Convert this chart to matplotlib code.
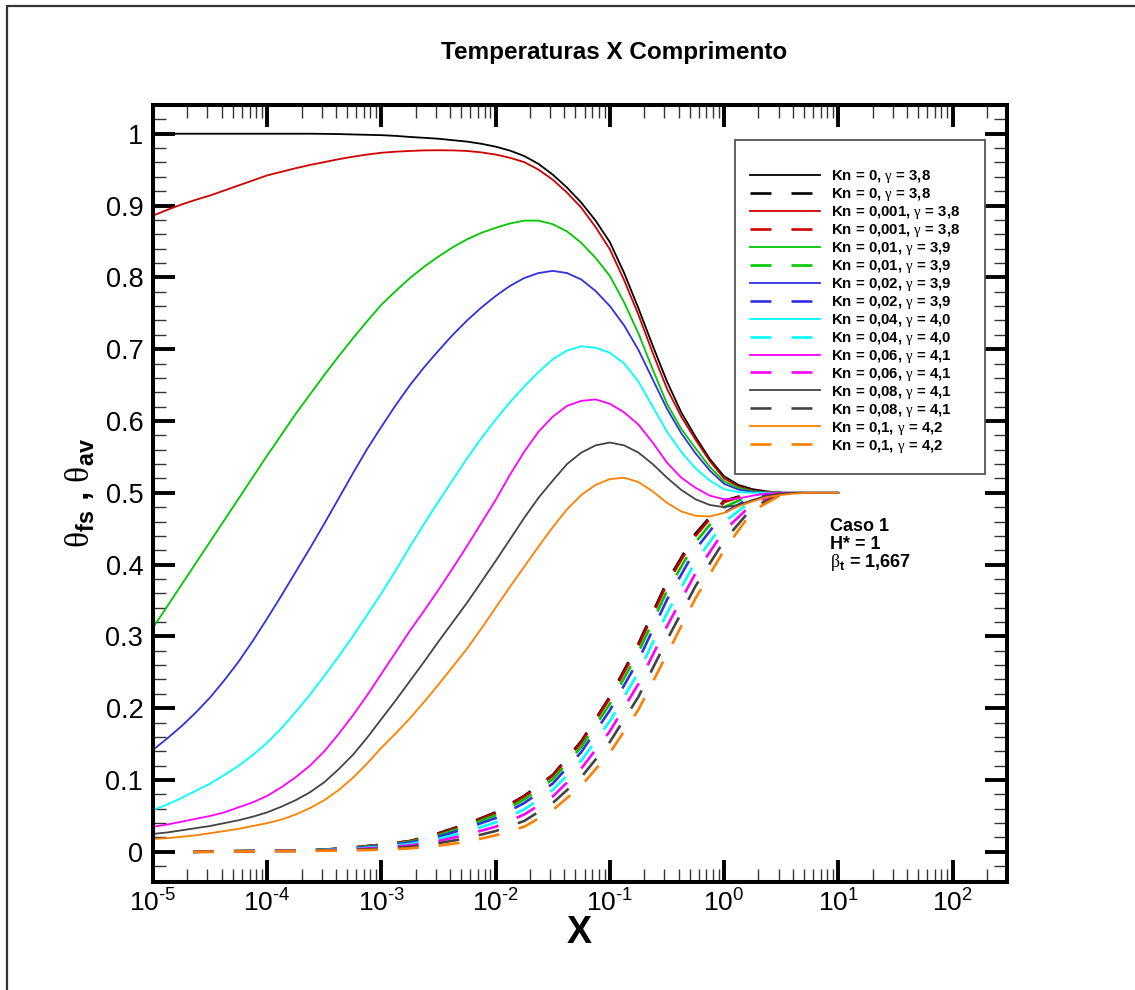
import matplotlib
matplotlib.use("Agg")
import matplotlib.pyplot as plt
from matplotlib.patches import Rectangle
from matplotlib.lines import Line2D
from matplotlib.ticker import LogLocator, MultipleLocator, NullFormatter

plt.rcParams['font.family'] = ['Liberation Sans', 'DejaVu Sans']
plt.rcParams['mathtext.fontset'] = 'custom'
plt.rcParams['mathtext.rm'] = 'Liberation Sans'
plt.rcParams['mathtext.it'] = 'Liberation Sans'
plt.rcParams['mathtext.bf'] = 'Liberation Sans:bold'
plt.rcParams['mathtext.sf'] = 'Liberation Serif'
plt.rcParams['lines.scale_dashes'] = False

# axial positions (X), 1/8 decade apart for theta_fs
x_fs = [1e-5, 1.334e-5, 1.778e-5, 2.371e-5, 3.162e-5, 4.217e-5, 5.623e-5, 7.499e-5,
        1e-4, 1.334e-4, 1.778e-4, 2.371e-4, 3.162e-4, 4.217e-4, 5.623e-4, 7.499e-4,
        1e-3, 1.334e-3, 1.778e-3, 2.371e-3, 3.162e-3, 4.217e-3, 5.623e-3, 7.499e-3,
        1e-2, 1.334e-2, 1.778e-2, 2.371e-2, 3.162e-2, 4.217e-2, 5.623e-2, 7.499e-2,
        0.1, 0.1334, 0.1778, 0.2371, 0.3162, 0.4217, 0.5623, 0.7499,
        1.0, 1.334, 1.778, 2.371, 3.162, 4.217, 5.623, 7.499,
        10.0]
x_av = [2.24e-5, 3.16e-5, 5.62e-5, 1e-4, 1.78e-4, 3.16e-4, 5.62e-4,
        1e-3, 1.78e-3, 3.16e-3, 5.62e-3, 1e-2, 1.78e-2, 3.16e-2, 5.62e-2,
        0.1, 0.178, 0.316, 0.562, 1.0, 1.78, 3.16]

# theta_fs (solid lines)
fs_kn0 = [1.0, 1.0, 1.0, 1.0, 1.0, 1.0, 1.0, 1.0,
          1.0, 1.0, 1.0, 1.0, 0.9998, 0.9995, 0.999, 0.9985,
          0.998, 0.997, 0.9955, 0.9943, 0.993, 0.991, 0.989, 0.986,
          0.982, 0.9765, 0.969, 0.958, 0.943, 0.925, 0.904, 0.879,
          0.849, 0.806, 0.757, 0.705, 0.655, 0.612, 0.578, 0.547,
          0.523, 0.511, 0.505, 0.502, 0.5, 0.5, 0.5, 0.5,
          0.5]
fs_kn0001 = [0.886, 0.894, 0.9015, 0.908, 0.914, 0.921, 0.928, 0.935,
             0.942, 0.947, 0.952, 0.9565, 0.9605, 0.9645, 0.968, 0.971,
             0.9735, 0.975, 0.976, 0.9768, 0.977, 0.9768, 0.976, 0.974,
             0.971, 0.9665, 0.9605, 0.950, 0.936, 0.918, 0.897, 0.870,
             0.839, 0.796, 0.748, 0.695, 0.645, 0.606, 0.574, 0.544,
             0.520, 0.509, 0.503, 0.501, 0.5, 0.5, 0.5, 0.5,
             0.5]
fs_kn001 = [0.312, 0.342, 0.372, 0.402, 0.432, 0.462, 0.492, 0.522,
            0.552, 0.581, 0.610, 0.637, 0.664, 0.690, 0.715, 0.739,
            0.762, 0.781, 0.799, 0.815, 0.829, 0.842, 0.853, 0.862,
            0.869, 0.875, 0.879, 0.879, 0.874, 0.864, 0.848, 0.827,
            0.802, 0.765, 0.722, 0.672, 0.624, 0.589, 0.562, 0.536,
            0.516, 0.507, 0.502, 0.5005, 0.5, 0.5, 0.5, 0.5,
            0.5]
fs_kn002 = [0.142, 0.158, 0.175, 0.194, 0.215, 0.239, 0.265, 0.294,
            0.325, 0.357, 0.39, 0.423, 0.457, 0.492, 0.527, 0.561,
            0.592, 0.622, 0.650, 0.675, 0.698, 0.720, 0.740, 0.758,
            0.774, 0.788, 0.799, 0.806, 0.809, 0.806, 0.797, 0.781,
            0.760, 0.733, 0.699, 0.658, 0.617, 0.583, 0.555, 0.531,
            0.5125, 0.5045, 0.501, 0.5, 0.5, 0.5, 0.5, 0.5,
            0.5]
fs_kn004 = [0.058, 0.066, 0.075, 0.085, 0.095, 0.107, 0.12, 0.135,
            0.152, 0.172, 0.195, 0.219, 0.245, 0.272, 0.30, 0.33,
            0.36, 0.392, 0.425, 0.457, 0.488, 0.518, 0.548, 0.576,
            0.602, 0.626, 0.648, 0.668, 0.686, 0.698, 0.704, 0.702,
            0.695, 0.680, 0.655, 0.620, 0.585, 0.557, 0.534, 0.517,
            0.505, 0.501, 0.5, 0.5, 0.5, 0.5, 0.5, 0.5,
            0.5]
fs_kn006 = [0.035, 0.038, 0.042, 0.046, 0.05, 0.055, 0.062, 0.069,
            0.078, 0.090, 0.104, 0.120, 0.14, 0.164, 0.19, 0.218,
            0.248, 0.278, 0.308, 0.336, 0.365, 0.395, 0.426, 0.458,
            0.490, 0.525, 0.557, 0.585, 0.606, 0.621, 0.628, 0.630,
            0.624, 0.612, 0.595, 0.570, 0.542, 0.521, 0.507, 0.496,
            0.491, 0.492, 0.496, 0.499, 0.5, 0.5, 0.5, 0.5,
            0.5]
fs_kn008 = [0.025, 0.027, 0.03, 0.033, 0.036, 0.040, 0.044, 0.049,
            0.055, 0.063, 0.072, 0.083, 0.097, 0.115, 0.135, 0.159,
            0.185, 0.211, 0.238, 0.265, 0.293, 0.320, 0.347, 0.376,
            0.405, 0.435, 0.465, 0.493, 0.517, 0.540, 0.556, 0.566,
            0.570, 0.566, 0.556, 0.540, 0.521, 0.504, 0.491, 0.483,
            0.480, 0.483, 0.490, 0.496, 0.499, 0.5, 0.5, 0.5,
            0.5]
fs_kn01 = [0.018, 0.019, 0.021, 0.023, 0.026, 0.029, 0.032, 0.036,
           0.04, 0.045, 0.052, 0.061, 0.072, 0.086, 0.103, 0.123,
           0.145, 0.165, 0.186, 0.209, 0.233, 0.258, 0.283, 0.311,
           0.34, 0.369, 0.397, 0.425, 0.452, 0.477, 0.497, 0.511,
           0.519, 0.521, 0.515, 0.502, 0.486, 0.474, 0.468, 0.467,
           0.472, 0.481, 0.488, 0.494, 0.497, 0.499, 0.5, 0.5,
           0.5]

# theta_av (dashed lines)
av_kn0 = [0, 0.0005, 0.001, 0.0015, 0.002, 0.003, 0.006, 0.010, 0.015, 0.026, 0.039,
          0.055, 0.078, 0.107, 0.154, 0.216, 0.290, 0.376, 0.443, 0.489, 0.5, 0.5]
av_kn0001 = [0, 0.0005, 0.001, 0.0015, 0.002, 0.003, 0.006, 0.010, 0.015, 0.025, 0.038,
             0.054, 0.077, 0.106, 0.152, 0.214, 0.287, 0.373, 0.44, 0.487, 0.5, 0.5]
av_kn001 = [0, 0.0005, 0.001, 0.0015, 0.002, 0.003, 0.0056, 0.0093, 0.014, 0.023, 0.036,
            0.051, 0.073, 0.101, 0.146, 0.206, 0.278, 0.363, 0.431, 0.480, 0.498, 0.5]
av_kn002 = [0, 0.0004, 0.0009, 0.0014, 0.0018, 0.0027, 0.005, 0.0085, 0.013, 0.021, 0.033,
            0.047, 0.068, 0.095, 0.139, 0.197, 0.267, 0.351, 0.421, 0.472, 0.495, 0.499]
av_kn004 = [0, 0.0003, 0.0008, 0.0013, 0.0016, 0.0024, 0.0043, 0.0071, 0.011, 0.018, 0.028,
            0.041, 0.059, 0.086, 0.127, 0.182, 0.250, 0.332, 0.404, 0.459, 0.490, 0.499]
av_kn006 = [0, 0.0002, 0.0007, 0.0012, 0.0014, 0.0021, 0.0036, 0.0058, 0.009, 0.015, 0.024,
            0.035, 0.052, 0.077, 0.116, 0.168, 0.234, 0.314, 0.388, 0.447, 0.485, 0.498]
av_kn008 = [0, 0.0001, 0.0006, 0.0011, 0.0012, 0.0018, 0.0028, 0.0044, 0.007, 0.012, 0.019,
            0.029, 0.043, 0.068, 0.104, 0.153, 0.216, 0.295, 0.370, 0.433, 0.480, 0.498]
av_kn01 = [0, 0, 0.0005, 0.001, 0.001, 0.0015, 0.002, 0.003, 0.0048, 0.0085, 0.014,
           0.023, 0.035, 0.058, 0.092, 0.138, 0.198, 0.275, 0.353, 0.42, 0.475, 0.497]

kn_values = ['0', '0,001', '0,01', '0,02', '0,04', '0,06', '0,08', '0,1']
gamma_values = ['3,8', '3,8', '3,9', '3,9', '4,0', '4,1', '4,1', '4,2']
fs_series = [fs_kn0, fs_kn0001, fs_kn001, fs_kn002, fs_kn004, fs_kn006, fs_kn008, fs_kn01]
av_series = [av_kn0, av_kn0001, av_kn001, av_kn002, av_kn004, av_kn006, av_kn008, av_kn01]
colors = ['#000000', '#d00000', '#00c800', '#3030e0', '#00ffff', '#ff00ff', '#444444', '#ff8000']

x_ticks = [1e-5, 1e-4, 1e-3, 1e-2, 1e-1, 1e0, 1e1, 1e2]
x_ticklabels = [r'$10^{\text{-5}}$', r'$10^{\text{-4}}$', r'$10^{\text{-3}}$', r'$10^{\text{-2}}$',
                r'$10^{\text{-1}}$', r'$10^{0}$', r'$10^{1}$', r'$10^{2}$']
y_ticks = [0, 0.1, 0.2, 0.3, 0.4, 0.5, 0.6, 0.7, 0.8, 0.9, 1.0]
y_ticklabels = ['0', '0.1', '0.2', '0.3', '0.4', '0.5', '0.6', '0.7', '0.8', '0.9', '1']

W, H = 1135, 990
fig = plt.figure(figsize=(W / 100, H / 100), dpi=100)
ax = fig.add_axes([153 / W, 108 / H, 854 / W, 777 / H])

handles = []
for kn, g, fs, av, c in zip(kn_values, gamma_values, fs_series, av_series, colors):
    lab = f'Kn = {kn}, ' + r'$\mathsf{\gamma}$' + f' = {g}'
    l1, = ax.plot(x_fs, fs, color=c, lw=1.3, label=lab)
    l2, = ax.plot(x_av, av, color=c, lw=1.9, ls=(0, (15.1, 14.4)), label=lab)
    handles += [l1, l2]

ax.set_xscale('log')
ax.set_xlim(1e-5, 3e2)
ax.set_ylim(-0.042, 1.04)
ax.set_xticks(x_ticks)
ax.set_xticklabels(x_ticklabels)
ax.xaxis.set_minor_locator(LogLocator(base=10, subs=range(2, 10), numticks=20))
ax.xaxis.set_minor_formatter(NullFormatter())
ax.set_yticks(y_ticks)
ax.set_yticklabels(y_ticklabels)
ax.yaxis.set_minor_locator(MultipleLocator(0.02))

ax.tick_params(which='major', direction='in', length=15.8, width=2.8,
               top=True, right=True, labelsize=19.5, pad=7)
ax.tick_params(axis='x', which='major', labelsize=19, pad=5)
ax.tick_params(which='minor', direction='in', length=9.4, width=1.0,
               top=True, right=True, color='#333333')
for sp in ax.spines.values():
    sp.set_linewidth(2.9)

# legend frame and entries
fig.patches.append(Rectangle((735 / W, 1 - 474 / H), 250 / W, 334 / H,
                             transform=fig.transFigure, fill=True, fc='white',
                             ec='#555555', lw=1.3, zorder=5))
leg = fig.legend(handles=handles, loc='upper left', bbox_to_anchor=(750 / W, 1 - 168 / H),
                 frameon=False, prop={'weight': 'bold', 'size': 10.8},
                 handlelength=4.67, handletextpad=0.73, labelspacing=0.065,
                 borderpad=0, borderaxespad=0)
leg.set_zorder(6)

fig.text(614 / W, 1 - 52 / H, 'Temperaturas X Comprimento', ha='center', va='center',
         fontsize=17.5, weight='bold')
fig.text(80 / W, 1 - 493 / H, r'$\mathsf{\theta}_{\mathbf{fs}}$ , $\mathsf{\theta}_{\mathbf{av}}$',
         rotation=90, ha='center', va='center', fontsize=24, weight='bold')
fig.text(579 / W, 1 - 933 / H, 'X', ha='center', va='center', fontsize=27, weight='bold')

notes = ['Caso 1', 'H* = 1', r'$\mathsf{\beta}_{\mathbf{t}}$ = 1,667']
baselines = [531, 549, 567]
for txt, yb in zip(notes, baselines):
    fig.text(830 / W, 1 - yb / H, txt, ha='left', va='baseline', fontsize=13, weight='bold')

# page border
fig.add_artist(Line2D([6.5 / W, 6.5 / W, 1.0], [0.0, 1 - 5.5 / H, 1 - 5.5 / H],
                      transform=fig.transFigure, color='#333333', lw=1.6))

fig.savefig('out.png', dpi=100)
